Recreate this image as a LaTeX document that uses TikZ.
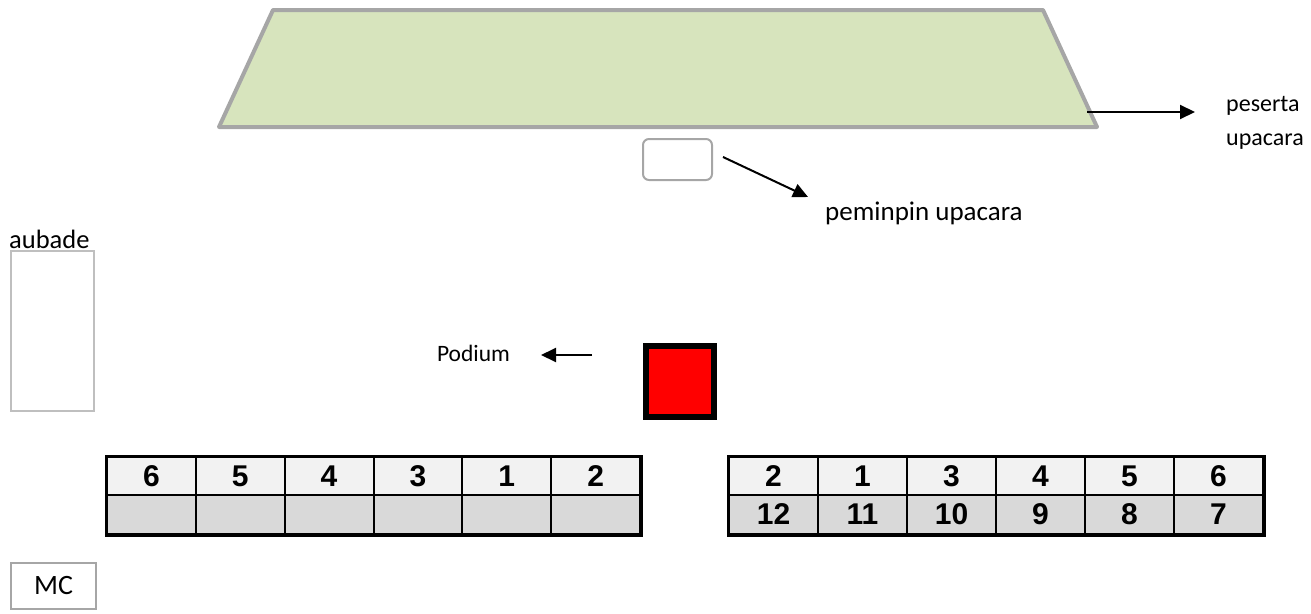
\documentclass[tikz,border=0pt]{standalone}
\usepackage{fontspec}
\setmainfont{Carlito}
\newfontfamily\arialf{Liberation Sans}
\usetikzlibrary{arrows.meta}
\definecolor{trapgreen}{HTML}{D7E4BD}
\definecolor{trapline}{HTML}{A6A6A6}
\definecolor{boxline}{HTML}{BFBFBF}
\definecolor{celltop}{HTML}{F2F2F2}
\definecolor{cellbot}{HTML}{D9D9D9}
\begin{document}
\begin{tikzpicture}[x=1pt,y=-1pt,
 lbl/.style={font=\fontsize{24}{34}\selectfont, inner sep=0pt, align=left},
 arr/.style={line width=2pt,-{Triangle[length=15pt,width=14pt]}},
 cellT/.style={draw, line width=2pt, fill=celltop, minimum height=38pt, anchor=north west, inner sep=0pt, font=\arialf\bfseries\fontsize{30}{30}\selectfont},
 cellB/.style={cellT, fill=cellbot, minimum height=39pt},
 cellL/.style={minimum width=88.83pt},
 cellR/.style={minimum width=89pt},
 greybox/.style={draw=trapline, line width=2pt},
]
\useasboundingbox (0,0) rectangle (1311,613);
% field of participants
\coordinate (t1) at (273,10);
\coordinate (t2) at (1043,10);
\coordinate (t3) at (1097,127);
\coordinate (t4) at (219,127);
\draw[trapline, line width=4pt, fill=trapgreen, line join=round] (t1) -- (t2) -- (t3) -- (t4) -- cycle;
\coordinate (pesA) at (1087,112);
\coordinate (pesB) at (1195,112);
\draw[arr] (pesA) -- (pesB);
\node[lbl, anchor=west] (peserta) at (1226,123) {peserta\\upacara};
% leader
\node[greybox, rounded corners=6pt, minimum width=69pt, minimum height=41pt] (pemimpin) at (677.5,159.5) {};
\coordinate (pemA) at (723,157);
\coordinate (pemB) at (808,197);
\draw[arr] (pemA) -- (pemB);
\node[lbl, anchor=west, font=\fontsize{27}{32}\selectfont] (pemlbl) at (825,213) {peminpin upacara};
% aubade
\node[lbl, anchor=west, font=\fontsize{26.5}{32}\selectfont] (aubade) at (9,239) {aubade};
\node[draw=boxline, line width=2pt, minimum width=83pt, minimum height=160pt, inner sep=0pt] (aubadebox) at (52,330.5) {};
% podium
\node[lbl, font=\fontsize{23.5}{28}\selectfont] (podlbl) at (473.5,353) {Podium};
\coordinate (podA) at (592,355);
\coordinate (podB) at (541,355);
\draw[arr] (podA) -- (podB);
\node[draw=black, fill=red, line width=6pt, minimum width=68pt, minimum height=71pt, inner sep=0pt] (podium) at (680,381.5) {};
% left table
\node[cellT, cellL] (L1) at (106,456) {6};
\node[cellT, cellL] (L2) at (194.83,456) {5};
\node[cellT, cellL] (L3) at (283.67,456) {4};
\node[cellT, cellL] (L4) at (372.5,456) {3};
\node[cellT, cellL] (L5) at (461.33,456) {1};
\node[cellT, cellL] (L6) at (550.17,456) {2};
\node[cellB, cellL] (L7) at (106,494) {};
\node[cellB, cellL] (L8) at (194.83,494) {};
\node[cellB, cellL] (L9) at (283.67,494) {};
\node[cellB, cellL] (L10) at (372.5,494) {};
\node[cellB, cellL] (L11) at (461.33,494) {};
\node[cellB, cellL] (L12) at (550.17,494) {};
\draw[line width=3pt] (L1.north west) rectangle (L12.south east);
% right table
\node[cellT, cellR] (R1) at (728,456) {2};
\node[cellT, cellR] (R2) at (817,456) {1};
\node[cellT, cellR] (R3) at (906,456) {3};
\node[cellT, cellR] (R4) at (995,456) {4};
\node[cellT, cellR] (R5) at (1084,456) {5};
\node[cellT, cellR] (R6) at (1173,456) {6};
\node[cellB, cellR] (R7) at (728,494) {12};
\node[cellB, cellR] (R8) at (817,494) {11};
\node[cellB, cellR] (R9) at (906,494) {10};
\node[cellB, cellR] (R10) at (995,494) {9};
\node[cellB, cellR] (R11) at (1084,494) {8};
\node[cellB, cellR] (R12) at (1173,494) {7};
\draw[line width=3pt] (R1.north west) rectangle (R12.south east);
% MC
\node[greybox, minimum width=85pt, minimum height=46pt, inner sep=0pt, font=\fontsize{28}{32}\selectfont] (mc) at (53.5,586) {MC};
\end{tikzpicture}
\end{document}
